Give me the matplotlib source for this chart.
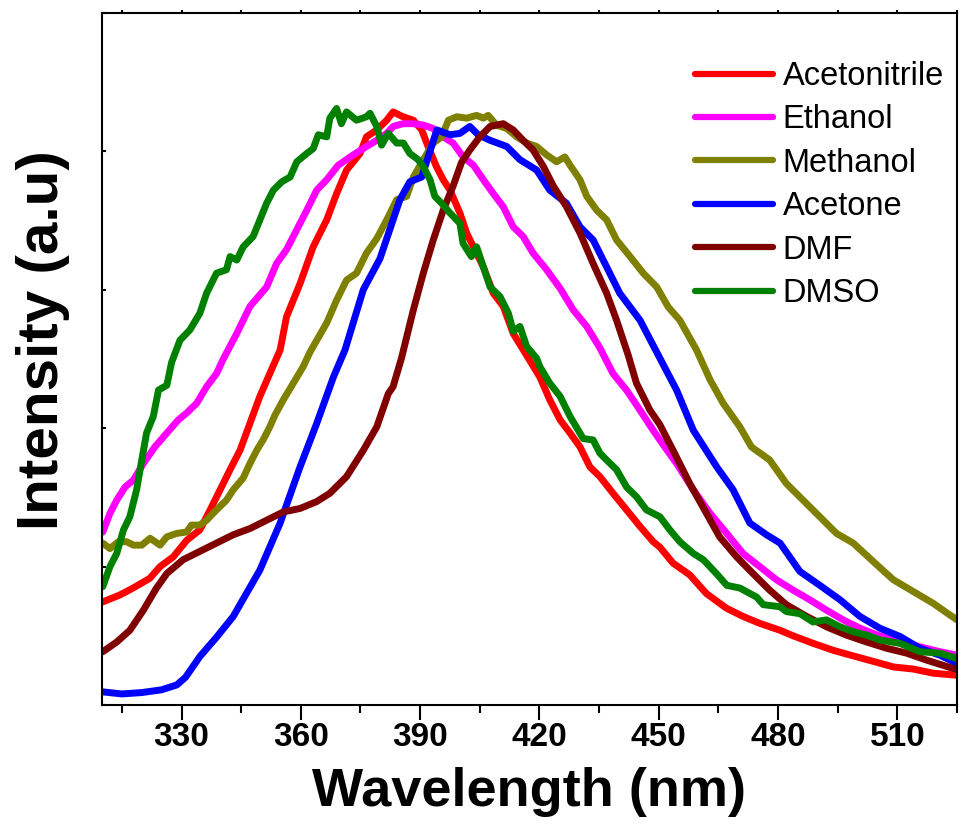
import numpy as np
import matplotlib
matplotlib.use('Agg')
import matplotlib.pyplot as plt
from matplotlib.ticker import MultipleLocator

plt.rcParams['font.family'] = ['Liberation Sans', 'DejaVu Sans']
plt.rcParams['axes.linewidth'] = 1.5

# emission spectra (normalised intensity) of the compound in six solvents
acn_wl = [310.2, 314.5, 317.8, 322, 324.6, 327.9, 331.3, 334.6, 337.2, 339.7, 342.2, 344.7, 347.2, 349.7,
          352.2, 354.8, 356.4, 359.8, 363.1, 366.5, 369, 371.5, 374.9, 376.5, 379.1, 381.6, 383.2, 385.7,
          388.3, 390.4, 392, 394.1, 395.8, 397.5, 400, 401.7, 403.4, 405.9, 408.4, 410.9, 413.4, 416.8,
          420.1, 422.6, 425.2, 427.7, 430.2, 432.7, 435.2, 438.5, 441.9, 445.3, 448.6, 450.3, 453.6, 457.8,
          462, 467, 471.2, 475.4, 480.5, 483.8, 488.9, 493.9, 498.9, 504, 509, 514, 519, 525]
acn_int = [0.149, 0.159, 0.169, 0.183, 0.200, 0.214, 0.238, 0.253, 0.282, 0.311, 0.340, 0.368, 0.407, 0.446,
           0.479, 0.513, 0.561, 0.609, 0.662, 0.701, 0.739, 0.773, 0.797, 0.821, 0.831, 0.845, 0.857, 0.850,
           0.845, 0.831, 0.807, 0.778, 0.759, 0.744, 0.711, 0.682, 0.662, 0.633, 0.595, 0.576, 0.537, 0.505,
           0.474, 0.441, 0.412, 0.393, 0.373, 0.344, 0.330, 0.306, 0.282, 0.258, 0.236, 0.228, 0.205, 0.188,
           0.161, 0.140, 0.128, 0.118, 0.108, 0.100, 0.089, 0.079, 0.071, 0.063, 0.055, 0.052, 0.046, 0.043]

etoh_wl = [310.2, 312, 313.7, 315.8, 317.9, 320.4, 323.3, 326.3, 329.2, 331.3, 333.8, 336.3, 338.8, 340.5,
           343.9, 347.2, 351.4, 353.9, 356.4, 358.9, 361.5, 364, 366.5, 369.4, 373.2, 376.5, 379.1, 381.6,
           383.2, 385.7, 388.3, 390.8, 393.3, 395.8, 398.3, 400.8, 403.4, 405.9, 408.4, 410.9, 413.4, 415.9,
           418.4, 421.8, 425.2, 428.5, 431.9, 435.2, 438.5, 441.9, 445.3, 448.6, 451.5, 454.5, 458.7, 462.9,
           467.1, 471.2, 475.4, 479.6, 483.8, 488, 492.2, 496.4, 500.6, 505, 510, 515, 520, 525]
etoh_int = [0.250, 0.277, 0.296, 0.315, 0.325, 0.349, 0.373, 0.393, 0.412, 0.422, 0.436, 0.460, 0.479, 0.500,
            0.537, 0.576, 0.604, 0.638, 0.658, 0.686, 0.715, 0.744, 0.759, 0.780, 0.795, 0.807, 0.816, 0.826,
            0.836, 0.840, 0.840, 0.838, 0.833, 0.821, 0.812, 0.792, 0.780, 0.759, 0.739, 0.720, 0.691, 0.677,
            0.653, 0.629, 0.602, 0.571, 0.547, 0.516, 0.479, 0.455, 0.426, 0.397, 0.373, 0.349, 0.311, 0.277,
            0.248, 0.219, 0.200, 0.181, 0.166, 0.152, 0.137, 0.123, 0.111, 0.101, 0.093, 0.085, 0.078, 0.072]

meoh_wl = [310.2, 312, 314.1, 316.2, 317.9, 320, 322.1, 324.6, 326.3, 328.8, 331.3, 332.5, 334.6, 336.3,
           338.8, 341.3, 343, 345.5, 347.2, 348.9, 350.5, 352.2, 353.5, 355.6, 358.1, 360.6, 362.3, 364,
           366.5, 369, 371.5, 374, 376.5, 379.1, 381.6, 384.1, 386.6, 388.3, 390.8, 393.3, 395.4, 397.1,
           399.2, 401.7, 404.2, 405.9, 407.1, 409.2, 411.8, 414.3, 416.8, 419.3, 421.8, 424.3, 426.4, 427.7,
           430.2, 431.9, 434.4, 436.9, 439.4, 442.8, 446.1, 449.5, 452.4, 455.3, 459.5, 462.9, 466.2, 470.4,
           473.3, 477.9, 482.1, 486.3, 490.5, 494.7, 498.9, 504, 509, 514, 519, 525]
meoh_int = [0.234, 0.226, 0.236, 0.236, 0.231, 0.231, 0.241, 0.231, 0.243, 0.248, 0.250, 0.260, 0.260, 0.267,
            0.282, 0.296, 0.311, 0.328, 0.349, 0.368, 0.383, 0.402, 0.419, 0.441, 0.465, 0.489, 0.510, 0.527,
            0.552, 0.585, 0.614, 0.624, 0.653, 0.674, 0.701, 0.730, 0.735, 0.763, 0.788, 0.812, 0.821, 0.845,
            0.850, 0.848, 0.852, 0.848, 0.852, 0.838, 0.833, 0.821, 0.812, 0.807, 0.795, 0.785, 0.792, 0.780,
            0.759, 0.735, 0.715, 0.701, 0.672, 0.648, 0.624, 0.604, 0.575, 0.556, 0.513, 0.470, 0.436, 0.402,
            0.373, 0.354, 0.320, 0.296, 0.272, 0.248, 0.234, 0.207, 0.181, 0.164, 0.147, 0.123]

acetone_wl = [310.2, 315, 320, 325, 328.8, 331, 334.6, 338.8, 343, 349.7, 354.8, 359.8, 364, 368.2, 371.1,
              375.7, 379.9, 384.9, 387.4, 390.4, 394.2, 397.5, 400, 402.5, 404.6, 407.6, 411.8, 415.1, 419.3,
              422.6, 426.8, 430.2, 433.5, 436.9, 440.2, 445.3, 450.3, 454.5, 458.7, 464.6, 468.7, 472.9, 477.1,
              480.5, 485.5, 490.5, 495.6, 500.6, 505.6, 510.7, 515.7, 520.7, 525]
acetone_int = [0.019, 0.016, 0.018, 0.022, 0.029, 0.040, 0.070, 0.098, 0.128, 0.195, 0.263, 0.344, 0.407,
               0.474, 0.513, 0.600, 0.645, 0.730, 0.756, 0.763, 0.831, 0.824, 0.826, 0.836, 0.824, 0.816,
               0.807, 0.788, 0.773, 0.744, 0.725, 0.691, 0.672, 0.633, 0.595, 0.556, 0.501, 0.455, 0.397,
               0.344, 0.311, 0.263, 0.246, 0.234, 0.193, 0.173, 0.152, 0.128, 0.111, 0.099, 0.082, 0.072, 0.060]

dmf_wl = [310.2, 313.7, 317, 320.4, 323.7, 326.3, 330.4, 334.6, 338.8, 343, 347.2, 351.4, 355.6, 359.8,
          364, 367.3, 371.5, 375.7, 379.1, 382, 383.2, 385.3, 388.3, 390.8, 393.3, 395.8, 398.3, 400.4,
          402.5, 405, 407.6, 410.9, 413.4, 415.9, 418.4, 421, 423.5, 426.8, 430.2, 433.5, 436.9, 439.4,
          442.3, 444.4, 447.8, 450.3, 453.6, 457.8, 462, 465.3, 469.6, 473.7, 477.9, 482.1, 487.2, 492.2,
          497.2, 502.3, 507.3, 512.3, 517.3, 525]
dmf_int = [0.077, 0.091, 0.108, 0.137, 0.169, 0.190, 0.210, 0.222, 0.234, 0.246, 0.255, 0.267, 0.279, 0.284,
           0.294, 0.306, 0.330, 0.368, 0.402, 0.450, 0.460, 0.501, 0.571, 0.624, 0.672, 0.715, 0.750, 0.784,
           0.802, 0.821, 0.836, 0.840, 0.831, 0.816, 0.802, 0.778, 0.750, 0.720, 0.682, 0.638, 0.595, 0.556,
           0.506, 0.465, 0.426, 0.405, 0.368, 0.320, 0.277, 0.243, 0.214, 0.190, 0.166, 0.145, 0.128, 0.113,
           0.101, 0.091, 0.082, 0.075, 0.065, 0.051]

dmso_wl = [310.2, 312, 313.7, 315.4, 317, 318.7, 320, 321.2, 322.9, 324.2, 326.3, 327.5, 329.6, 332.1,
           334.6, 336.3, 338.8, 341.3, 342.2, 343.9, 345.5, 348, 349.7, 351.4, 353.1, 355.2, 357.3, 359,
           361.5, 363.1, 364.4, 366.5, 367.3, 369, 370.2, 371.5, 374, 376.5, 377.4, 379.1, 380.3, 382,
           384.1, 385.8, 387.4, 389.5, 390.8, 392.5, 393.7, 395.4, 397.5, 400, 400.8, 402.9, 404.2, 405.9,
           407.6, 410.1, 412.2, 413.4, 415.1, 416.8, 419.3, 420.1, 422.6, 425.2, 427.7, 431, 433.5, 435.2,
           436.9, 439.4, 441.9, 444.4, 446.9, 450.3, 452.8, 455.3, 458.7, 461.2, 464.5, 467.1, 470.4, 474.6,
           476.3, 480.5, 482.1, 485.5, 488.8, 492.2, 495.6, 498.9, 502.3, 505.6, 510.7, 515.7, 520.7, 525]
dmso_int = [0.171, 0.200, 0.219, 0.253, 0.272, 0.311, 0.354, 0.393, 0.417, 0.455, 0.462, 0.495, 0.527, 0.542,
            0.566, 0.595, 0.624, 0.629, 0.648, 0.643, 0.662, 0.677, 0.701, 0.725, 0.744, 0.756, 0.763, 0.785,
            0.797, 0.804, 0.824, 0.821, 0.848, 0.862, 0.840, 0.857, 0.845, 0.850, 0.855, 0.836, 0.809, 0.826,
            0.812, 0.812, 0.797, 0.788, 0.778, 0.759, 0.735, 0.725, 0.711, 0.696, 0.667, 0.648, 0.662, 0.633,
            0.604, 0.590, 0.566, 0.540, 0.547, 0.518, 0.501, 0.489, 0.465, 0.446, 0.417, 0.385, 0.383, 0.364,
            0.354, 0.340, 0.315, 0.301, 0.282, 0.272, 0.253, 0.236, 0.219, 0.210, 0.190, 0.173, 0.169, 0.156,
            0.145, 0.142, 0.135, 0.132, 0.120, 0.123, 0.113, 0.106, 0.101, 0.094, 0.089, 0.077, 0.075, 0.067]

series = [
    ('Acetonitrile', acn_wl, acn_int, '#ff0000'),
    ('Ethanol', etoh_wl, etoh_int, '#ff00ff'),
    ('Methanol', meoh_wl, meoh_int, '#808000'),
    ('Acetone', acetone_wl, acetone_int, '#0000ff'),
    ('DMF', dmf_wl, dmf_int, '#800000'),
    ('DMSO', dmso_wl, dmso_int, '#008000'),
]

fig = plt.figure(figsize=(9.6, 8.31), dpi=100)
ax = fig.add_axes([0.10625, 0.1516, 0.8906, 0.8328])

for name, wl, inten, col in series:
    ax.plot(wl, inten, color=col, lw=5, label=name, solid_joinstyle='round', solid_capstyle='round')

ax.set_xlim(310, 525)
ax.set_ylim(0, 1)
ax.set_xticks(np.arange(330, 520, 30))
ax.xaxis.set_minor_locator(MultipleLocator(15))
ax.yaxis.set_major_locator(MultipleLocator(0.2))
ax.tick_params(axis='x', which='major', direction='out', length=11, width=1.5, pad=1)
ax.tick_params(axis='x', which='minor', direction='out', length=6, width=1.5)
ax.tick_params(axis='x', which='both', top=True, labeltop=False)
ax.tick_params(axis='y', which='major', direction='in', length=3, width=1.5, labelleft=False)
for lab in ax.get_xticklabels():
    lab.set_fontsize(24)
    lab.set_fontweight('bold')
# top ticks stay tiny
for t in ax.xaxis.get_major_ticks() + ax.xaxis.get_minor_ticks():
    t.tick2line.set_markersize(2)

ax.set_xlabel('Wavelength (nm)', fontsize=39, fontweight='bold', labelpad=10)
ax.set_ylabel('Intensity (a.u)', fontsize=42, fontweight='bold')
ax.yaxis.set_label_coords(-0.037, 0.527)

leg = ax.legend(loc='upper left', bbox_to_anchor=(695 / 960, 1 - 61 / 831),
                bbox_transform=fig.transFigure, frameon=False, fontsize=23.5,
                handlelength=2.4, handletextpad=0.28, labelspacing=0.38,
                borderpad=0, borderaxespad=0)
for h in leg.legend_handles:
    h.set_linewidth(4.5)

fig.savefig('out.png', dpi=100)
